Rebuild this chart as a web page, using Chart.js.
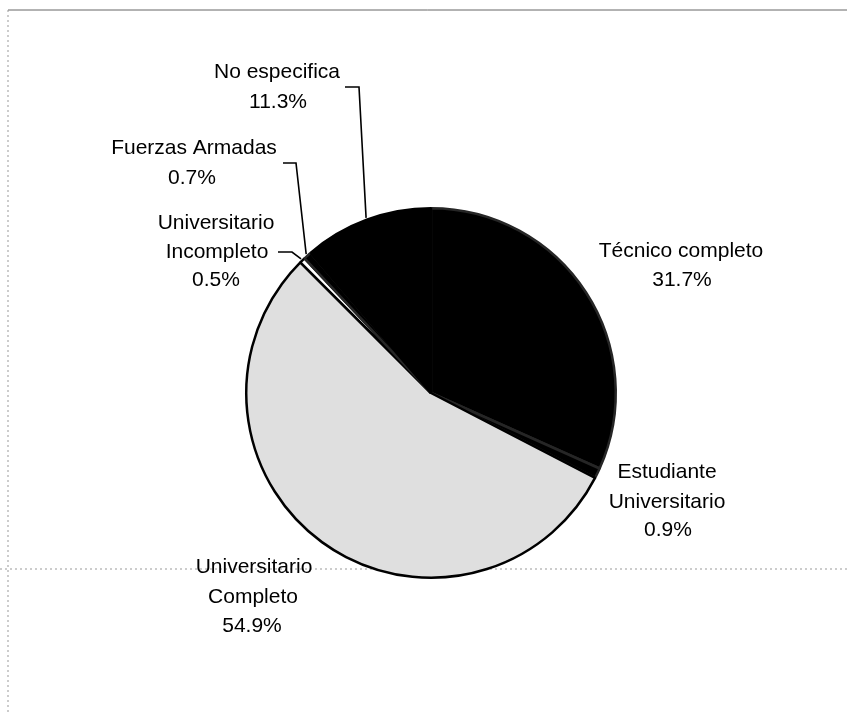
<!DOCTYPE html>
<html>
<head>
<meta charset="utf-8">
<script src="https://cdn.jsdelivr.net/npm/chart.js@4.4.1/dist/chart.umd.min.js"></script>
<style>
  body { margin: 0; background: #fff; }
  #wrap { width: 847px; height: 712px; position: relative; }
</style>
</head>
<body>
<div id="wrap"><canvas id="eduChart"></canvas></div>
<script>
// Slice data, clockwise from 12 o'clock
const categories = ['Técnico completo', 'Estudiante Universitario', 'Universitario Completo',
                    'Universitario Incompleto', 'Fuerzas Armadas', 'No especifica'];
const percentages = [31.7, 0.9, 54.9, 0.5, 0.7, 11.3];
const labelLines = [
  ['Técnico completo'],
  ['Estudiante', 'Universitario'],
  ['Universitario', 'Completo'],
  ['Universitario', 'Incompleto'],
  ['Fuerzas Armadas'],
  ['No especifica']
];
const sliceColors = ['#000000', '#000000', '#dfdfdf', '#ffffff', '#000000', '#000000'];
const edgeColors = ['#262626', '#262626', '#000000', '#000000', '#262626', '#000000'];

// label placement, offsets from pie centre (x per line, y per line)
const labelPos = [
  { xs: [250, 251], ys: [-142, -113] },
  { xs: [236, 236, 237], ys: [79, 109, 137] },
  { xs: [-177, -178, -179], ys: [174, 204, 233] },
  { xs: [-215, -214, -215], ys: [-170, -141, -113], leader: [-153, -141, -139, -141] },
  { xs: [-237, -239], ys: [-245, -215], leader: [-148, -230, -135, -230] },
  { xs: [-154, -153], ys: [-321, -291], leader: [-86, -306, -72, -306] }
];

const labelPlugin = {
  id: 'sliceLabels',
  beforeDraw(chart) {
    const c = chart.ctx;
    c.save();
    c.strokeStyle = '#666';
    c.lineWidth = 1;
    c.beginPath();
    c.moveTo(8, 10); c.lineTo(847, 10);
    c.stroke();
    c.setLineDash([2, 3]);
    c.strokeStyle = '#999';
    c.beginPath();
    c.moveTo(8, 10); c.lineTo(8, 712);
    c.moveTo(0, 569); c.lineTo(847, 569);
    c.stroke();
    c.restore();
  },
  afterDraw(chart) {
    const c = chart.ctx;
    const arcs = chart.getDatasetMeta(0).data;
    c.save();
    c.font = '21px "Liberation Sans", Arial, sans-serif';
    c.fillStyle = '#000';
    c.textAlign = 'center';
    c.textBaseline = 'middle';
    arcs.forEach((arc, i) => {
      const p = arc.getProps(['x', 'y', 'startAngle', 'endAngle', 'outerRadius'], true);
      const pos = labelPos[i];
      const lines = labelLines[i].concat([percentages[i].toFixed(1) + '%']);
      lines.forEach((t, k) => c.fillText(t, p.x + pos.xs[k], p.y + pos.ys[k]));
      if (pos.leader) {
        const mid = (p.startAngle + p.endAngle) / 2;
        const ex = p.x + Math.cos(mid) * (p.outerRadius + 2);
        const ey = p.y + Math.sin(mid) * (p.outerRadius + 2);
        c.strokeStyle = '#000';
        c.lineWidth = 1.6;
        c.beginPath();
        c.moveTo(p.x + pos.leader[0], p.y + pos.leader[1]);
        c.lineTo(p.x + pos.leader[2], p.y + pos.leader[3]);
        c.lineTo(ex, ey);
        c.stroke();
      }
    });
    c.restore();
  }
};

const ctx = document.getElementById('eduChart').getContext('2d');
const eduChart = new Chart(ctx, {
  type: 'pie',
  data: {
    labels: categories,
    datasets: [{
      data: percentages,
      backgroundColor: sliceColors,
      borderColor: edgeColors,
      borderWidth: 2.5,
      hoverOffset: 0
    }]
  },
  options: {
    responsive: true,
    maintainAspectRatio: false,
    animation: false,
    layout: { padding: { left: 245, right: 230, top: 207, bottom: 133 } },
    plugins: {
      legend: { display: false },
      tooltip: { enabled: false },
      title: { display: false }
    }
  },
  plugins: [labelPlugin]
});
</script>
</body>
</html>
